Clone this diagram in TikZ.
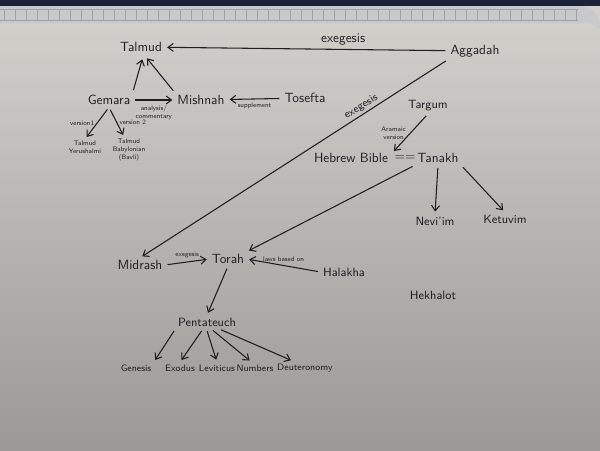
\documentclass[tikz,border=0pt]{standalone}
\usetikzlibrary{arrows.meta}
\definecolor{ink}{HTML}{1F1F22}
\definecolor{boardlight}{HTML}{D3D2CD}
\definecolor{boarddark}{HTML}{9A9997}
\definecolor{framenavy}{HTML}{1D2336}
\definecolor{rulergray}{HTML}{C7C9CB}
\definecolor{tickgray}{HTML}{9EA3A8}
\tikzset{every picture/.style={line width=0.75pt}}
\begin{document}
\begin{tikzpicture}[x=0.75pt,y=0.75pt,yscale=-1,xscale=1,
  word/.style={font=\sffamily, text=ink, inner sep=1.5pt},
  book/.style={font=\sffamily\scriptsize, text=ink, inner sep=1.5pt},
  note/.style={font=\sffamily\tiny, text=ink, inner sep=0.75pt, align=center},
  link/.style={draw=ink, line width=0.8pt, shorten <=2pt, shorten >=2pt, -{Straight Barb[length=4pt,width=6pt]}}]
\useasboundingbox (0,0) rectangle (600,450);

%Board background
\shade[top color=boardlight, bottom color=boarddark] (0,0) rectangle (600,450);
%Frame and ruler strip
\fill[framenavy] (0,0) rectangle (600,6);
\fill[rulergray] (0,6) -- (580,6) .. controls (592,6) and (600,14) .. (600,28) -- (600,30) .. controls (596,24) and (590,23) .. (580,23) -- (0,23) -- cycle;
\draw[tickgray, line width=0.5pt] (0,9) -- (578,9) (0,20) -- (578,20);
\foreach \x in {4,15,...,578} {
  \draw[tickgray, line width=0.5pt] (\x,9) -- (\x,20);
}

% Talmud part
\node[word] (talmud) at (141,47) {Talmud};
\node[word] (aggadah) at (475,51) {Aggadah};
\node[word] (gemara) at (109,100) {Gemara};
\node[word] (mishnah) at (201,100) {Mishnah};
\node[word] (tosefta) at (305,98) {Tosefta};
\node[note] (yerushalmi) at (85,147) {Talmud\\Yerushalmi};
\node[note] (bavli) at (129,150) {Talmud\\Babylonian\\(Bavli)};

% Tanakh part
\node[word, font=\sffamily\small] (targum) at (428,106) {Targum};
\node[word] (hebrew) at (351,158) {Hebrew Bible};
\node[word] (eq) at (405,158) {==};
\node[word] (tanakh) at (438,158) {Tanakh};
\node[word, font=\sffamily\small] (neviim) at (435,221) {Nevi'im};
\node[word, font=\sffamily\small] (ketuvim) at (505,219) {Ketuvim};

% Torah part
\node[word] (midrash) at (140,265) {Midrash};
\node[word] (torah) at (228,259) {Torah};
\node[word, font=\sffamily\small] (halakha) at (344,272) {Halakha};
\node[word, font=\sffamily\small] (hekhalot) at (433,295) {Hekhalot};
\node[word, font=\sffamily\small] (pentateuch) at (207,322) {Pentateuch};
\node[book] (genesis) at (136,368) {Genesis};
\node[book] (exodus) at (180,368) {Exodus};
\node[book] (leviticus) at (217,368) {Leviticus};
\node[book] (numbers) at (255,368) {Numbers};
\node[book] (deuteronomy) at (305,368) {Deuteronomy};

% Connectors
\draw[link] (aggadah) -- (talmud) node[word, pos=0.37, above=1pt] {exegesis};
\draw[link, shorten >=4pt] (gemara.north east) -- (talmud.-70);
\draw[link, shorten >=4pt] (mishnah.north west) -- (talmud.-70);
\draw[link] (gemara) -- (mishnah) node[note, midway, below=3pt] {analysis/\\commentary};
\draw[link] (tosefta) -- (mishnah) node[note, midway, below=2pt] {supplement};
\draw[link] (gemara.south) -- (yerushalmi.north) node[note, midway, left=1pt] {version1};
\draw[link] (gemara.south) -- (bavli.110) node[note, midway, right=1pt] {version 2};
\draw[link] (aggadah.south west) -- (midrash.north) node[word, font=\sffamily\footnotesize, rotate=32, pos=0.27, anchor=south, inner sep=1.5pt] {exegesis};
\draw[link] (targum.south) -- (eq.north west) node[note, midway, left=2pt] {Aramaic\\version};
\draw[link] (tanakh.south) -- (neviim.north);
\draw[link] (tanakh.south east) -- (ketuvim.north);
\draw[link] (tanakh.south west) -- (torah.north east);
\draw[link] (midrash.east) -- (torah.west) node[note, midway, above=2pt] {exegesis};
\draw[link] (halakha.west) -- (torah.east) node[note, midway, above=2pt] {laws based on};
\draw[link] (torah.south) -- (pentateuch.north);
\draw[link] (pentateuch.south west) -- (genesis.north east);
\draw[link] (pentateuch.-120) -- (exodus.north);
\draw[link] (pentateuch.-95) -- (leviticus.north);
\draw[link] (pentateuch.-60) -- (numbers.120);
\draw[link] (pentateuch.-30) -- (deuteronomy.150);

\end{tikzpicture}
\end{document}
